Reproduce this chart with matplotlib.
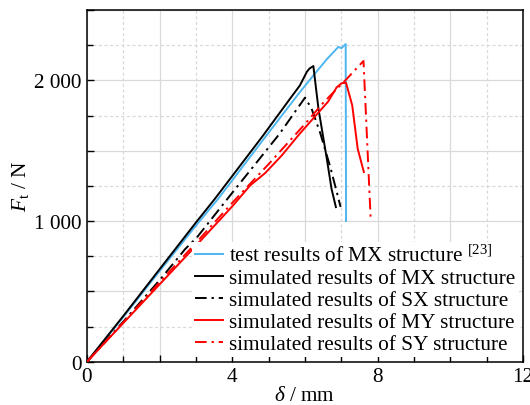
import matplotlib
matplotlib.use("Agg")
import matplotlib.pyplot as plt
from matplotlib.ticker import MultipleLocator, FuncFormatter

plt.rcParams['font.family'] = ['Liberation Serif', 'DejaVu Serif']
plt.rcParams['mathtext.fontset'] = 'custom'
plt.rcParams['mathtext.rm'] = 'Liberation Serif'
plt.rcParams['mathtext.it'] = 'Liberation Serif:italic'

# test results MX
test_mx_x = [0, 1, 2, 3, 3.61, 4.9, 5.86, 6.28, 6.6, 6.92, 7.0, 7.12, 7.13]
test_mx_y = [0, 318, 645, 968, 1158, 1595, 1917, 2050, 2150, 2238, 2228, 2258, 1000]
# simulated MX
sim_mx_x = [0, 1, 2, 3, 3.52, 4.85, 5.59, 5.86, 6.05, 6.12, 6.23, 6.37, 6.6, 6.73, 6.85]
sim_mx_y = [0, 325, 658, 990, 1158, 1609, 1870, 1964, 2060, 2083, 2102, 1799, 1443, 1229, 1099]
# simulated SX
sim_sx_x = [0, 1, 2, 2.7, 3.03, 3.94, 4.49, 5.3, 6.0, 6.18, 6.41, 6.7, 6.98]
sim_sx_y = [0, 285, 580, 800, 885, 1182, 1359, 1620, 1877, 1799, 1633, 1380, 1100]
# simulated MY
sim_my_x = [0, 1, 2, 3, 4, 4.49, 4.9, 5.36, 5.82, 6.28, 6.64, 6.87, 7.01, 7.13, 7.30, 7.45, 7.62]
sim_my_y = [0, 275, 550, 825, 1105, 1253, 1340, 1466, 1610, 1745, 1850, 1950, 1980, 1982, 1822, 1514, 1348]
# simulated SY
sim_sy_x = [0, 1, 2, 3, 4, 5, 6, 6.5, 7.13, 7.61, 7.81]
sim_sy_y = [0, 280, 565, 845, 1130, 1405, 1690, 1840, 2005, 2138, 1000]

labels = [r'test results of MX structure $^{\mathrm{[23]}}$',
          'simulated results of MX structure',
          'simulated results of SX structure',
          'simulated results of MY structure',
          'simulated results of SY structure']

fig = plt.figure(figsize=(5.30, 4.06), dpi=100)
ax = fig.add_axes([87/530, 1 - 362.7/406, (523-87)/530, (362.7-11)/406])

blue = '#4db6f0'
red = '#ff0000'
lw = 1.4
dashdot = (0, (6, 2.5, 1.2, 2.5))
ax.plot(test_mx_x, test_mx_y, color=blue, lw=lw, label=labels[0], zorder=3)
ax.plot(sim_mx_x, sim_mx_y, color='black', lw=lw, label=labels[1], zorder=3)
ax.plot(sim_sx_x, sim_sx_y, color='black', lw=lw, ls=dashdot, label=labels[2], zorder=3)
ax.plot(sim_my_x, sim_my_y, color=red, lw=lw, label=labels[3], zorder=3)
ax.plot(sim_sy_x, sim_sy_y, color=red, lw=lw, ls=dashdot, label=labels[4], zorder=3)

ax.set_xlim(0, 12)
ax.set_ylim(0, 2500)
ax.xaxis.set_major_locator(MultipleLocator(2))
ax.xaxis.set_minor_locator(MultipleLocator(1))
ax.yaxis.set_major_locator(MultipleLocator(500))
ax.yaxis.set_minor_locator(MultipleLocator(250))
ax.xaxis.set_major_formatter(FuncFormatter(lambda v, p: f'{int(round(v))}' if round(v) % 4 == 0 else ''))
ax.yaxis.set_major_formatter(FuncFormatter(lambda v, p: f'{int(round(v)):,}'.replace(',', ' ') if round(v) % 1000 == 0 else ''))

ax.grid(which='major', color='#d9d9d9', lw=0.9, ls='-', zorder=0)
ax.grid(which='minor', color='#d9d9d9', lw=0.9, ls=(0, (2.5, 2)), zorder=0)
ax.set_axisbelow(True)

fs = 15.3
ax.tick_params(which='both', direction='in', labelsize=fs, width=1.0, top=False, right=False)
ax.tick_params(which='major', length=5, pad=4)
ax.tick_params(which='minor', length=4)
for s in ax.spines.values():
    s.set_linewidth(1.1)

ax.set_xlabel(r'$\delta$ / mm', fontsize=fs, labelpad=0)
ax.set_ylabel(r'$F_{\mathrm{t}}$ / N', fontsize=fs, labelpad=2)

leg = ax.legend(loc='lower right', fontsize=fs, frameon=True, facecolor='white',
                edgecolor='none', framealpha=1, fancybox=False,
                handlelength=1.3, handletextpad=0.3, labelspacing=0.1,
                borderpad=0.15, borderaxespad=0.2)
leg.set_zorder(5)

fig.savefig('out.png', dpi=100)
